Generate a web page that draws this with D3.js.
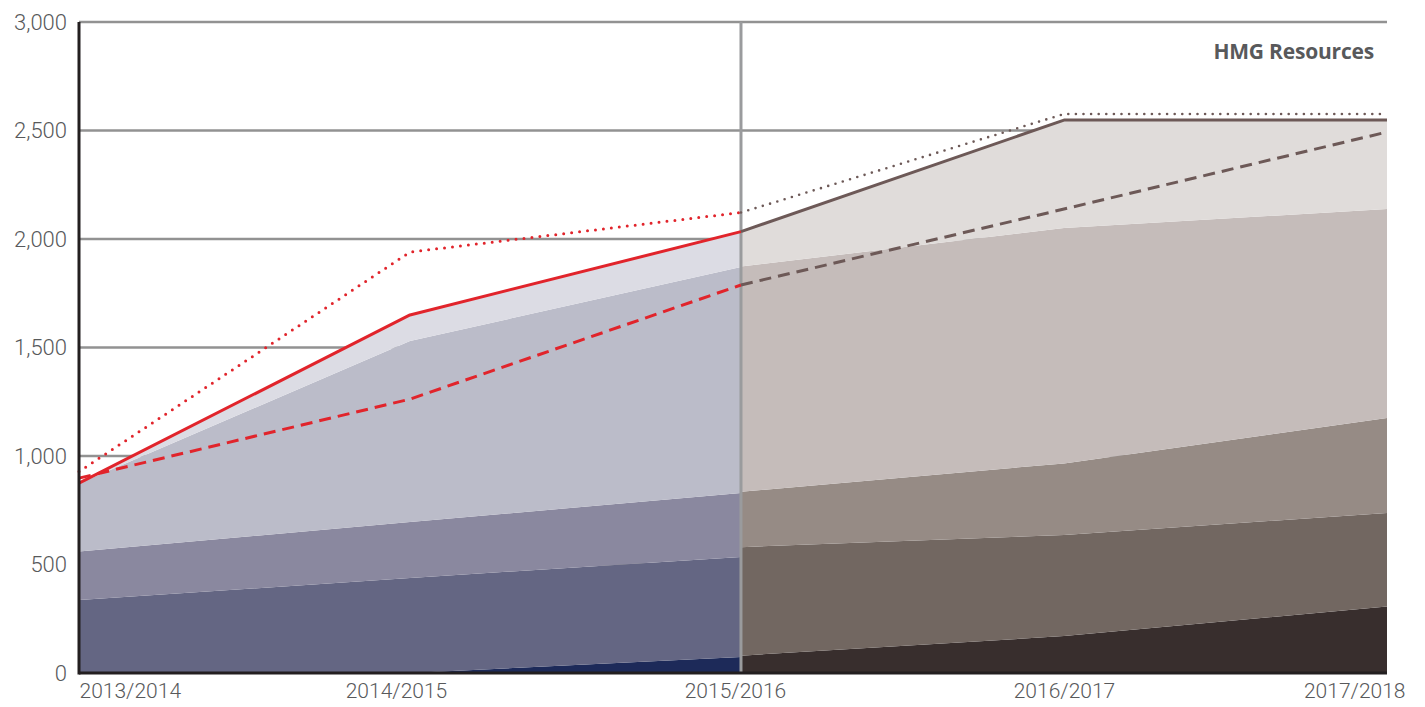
<!DOCTYPE html>
<html>
<head>
<meta charset="utf-8">
<script src="https://cdn.jsdelivr.net/npm/d3@7"></script>
<style>
  html, body { margin: 0; padding: 0; background: #fff; }
  svg { display: block; }
  .tick text { font-family: Roboto, "Liberation Sans", sans-serif; font-weight: 300; fill: #58595b; }
</style>
</head>
<body>
<svg id="chart" width="1425" height="707"></svg>
<script>
// Financial years along the horizontal axis
const years = ["2013/2014", "2014/2015", "2015/2016", "2016/2017", "2017/2018"];
const yTicks = [0, 500, 1000, 1500, 2000, 2500, 3000];

// Earlier period (2013/14 – 2015/16): stacked components, bottom to top
const earlyIdx = [0, 1, 2];
const earlyL1 = [0, 0, 74];
const earlyL2 = [336, 438, 461];
const earlyL3 = [224, 258, 294];
const earlyL4 = [313, 834, 1042];
const earlyL5 = [2, 120, 163];

// Later period (2015/16 – 2017/18): stacked components, bottom to top
const lateIdx = [2, 3, 4];
const lateL1 = [80, 170, 306];
const lateL2 = [500, 466, 431];
const lateL3 = [255, 330, 438];
const lateL4 = [1038, 1085, 963];
const lateL5 = [161, 497, 410];

// Reference lines
const earlyDotted = [928, 1940, 2122];
const earlyDashed = [898, 1262, 1788];
const lateDotted = [2122, 2576, 2576];
const lateDashed = [1788, 2138, 2493];

const earlyColors = ["#1d2a59", "#646683", "#8a889f", "#bbbcc9", "#dcdce4"];
const lateColors = ["#382e2d", "#726761", "#968b85", "#c5bcba", "#e0dcda"];
const red = "#e1242b";
const brown = "#6d5957";

const W = 1425, H = 707;
const m = { left: 79, top: 22, right: 38, bottom: 34 };
const plotW = W - m.left - m.right;
const plotH = H - m.top - m.bottom;

const svg = d3.select("#chart");

const x = d3.scaleLinear()
  .domain([0, 2, 4])
  .range([m.left, m.left + plotW * 0.5061, m.left + plotW]);
const y = d3.scaleLinear().domain([0, 3000]).range([m.top + plotH, m.top]);

// Horizontal gridlines
svg.append("g")
  .selectAll("line")
  .data(yTicks.filter(d => d > 0))
  .join("line")
  .attr("x1", x(0)).attr("x2", x(4))
  .attr("y1", d => y(d)).attr("y2", d => y(d))
  .attr("stroke", "#929292")
  .attr("stroke-width", 2.5);

function stackRows(idx, layers) {
  const keys = layers.map((_, i) => "k" + i);
  const rows = idx.map((xi, j) => {
    const r = { xi };
    layers.forEach((arr, i) => { r["k" + i] = arr[j]; });
    return r;
  });
  return d3.stack().keys(keys)(rows);
}

const area = d3.area()
  .x(d => x(d.data.xi))
  .y0(d => y(d[0]))
  .y1(d => y(d[1]));

const earlyStack = stackRows(earlyIdx, [earlyL1, earlyL2, earlyL3, earlyL4, earlyL5]);
const lateStack = stackRows(lateIdx, [lateL1, lateL2, lateL3, lateL4, lateL5]);

svg.append("g").selectAll("path")
  .data(earlyStack).join("path")
  .attr("d", area)
  .attr("fill", (d, i) => earlyColors[i]);

svg.append("g").selectAll("path")
  .data(lateStack).join("path")
  .attr("d", area)
  .attr("fill", (d, i) => lateColors[i]);

// Divider between the two periods
svg.append("line")
  .attr("x1", x(2)).attr("x2", x(2))
  .attr("y1", y(3000)).attr("y2", y(0))
  .attr("stroke", "#9a9b9d")
  .attr("stroke-width", 3);

const line = d3.line().x(d => x(d[0])).y(d => y(d[1]));
const pairs = (idx, vals) => idx.map((xi, j) => [xi, vals[j]]);

const earlyTotal = earlyStack[earlyStack.length - 1].map(d => d[1]);
const lateTotal = lateStack[lateStack.length - 1].map(d => d[1]);

const lines = [
  { pts: pairs(earlyIdx, earlyDashed), color: red, w: 3, dash: "12 7", cap: "butt" },
  { pts: pairs(earlyIdx, earlyDotted), color: red, w: 3, dash: "0 8", cap: "round" },
  { pts: pairs(earlyIdx, earlyTotal), color: red, w: 3, dash: null, cap: "butt" },
  { pts: pairs(lateIdx, lateDashed), color: brown, w: 3, dash: "12 7", cap: "butt" },
  { pts: pairs(lateIdx, lateDotted), color: brown, w: 2.6, dash: "0 7.6", cap: "round" },
  { pts: pairs(lateIdx, lateTotal), color: brown, w: 3, dash: null, cap: "butt" }
];

svg.append("g").selectAll("path")
  .data(lines).join("path")
  .attr("d", d => line(d.pts))
  .attr("fill", "none")
  .attr("stroke", d => d.color)
  .attr("stroke-width", d => d.w)
  .attr("stroke-dasharray", d => d.dash)
  .attr("stroke-linecap", d => d.cap)
  .attr("stroke-linejoin", "round");

// Axes
const yAxis = svg.append("g")
  .attr("transform", `translate(${m.left},0)`)
  .call(d3.axisLeft(y).tickValues(yTicks).tickFormat(d3.format(",")).tickSize(0).tickPadding(12));
yAxis.select(".domain").remove();
yAxis.selectAll("text").style("font-size", "22px");

const xAxis = svg.append("g")
  .attr("transform", `translate(0,${m.top + plotH})`)
  .call(d3.axisBottom(x).tickValues([0, 1, 2, 3, 4]).tickFormat(i => years[i]).tickSize(0).tickPadding(10));
xAxis.select(".domain").remove();
xAxis.selectAll("text")
  .style("font-size", "21px")
  .attr("text-anchor", i => i === 0 ? "start" : i === 4 ? "end" : "middle")
  .attr("dx", i => [0, -14, -6, 0, 18][i]);

// Axis lines
svg.append("line")
  .attr("x1", x(0)).attr("x2", x(0))
  .attr("y1", y(3000)).attr("y2", y(0) + 1.5)
  .attr("stroke", "#231f20").attr("stroke-width", 3);
svg.append("line")
  .attr("x1", x(0)).attr("x2", x(4))
  .attr("y1", y(0)).attr("y2", y(0))
  .attr("stroke", "#231f20").attr("stroke-width", 3);

// Title inside the plot
svg.append("text")
  .attr("x", x(4) - 13)
  .attr("y", y(3000) + 37)
  .attr("text-anchor", "end")
  .style("font-family", "'Open Sans', sans-serif")
  .style("font-weight", 700)
  .style("font-size", "21px")
  .style("letter-spacing", "-0.2px")
  .attr("fill", "#58595b")
  .text("HMG Resources");
</script>
</body>
</html>
